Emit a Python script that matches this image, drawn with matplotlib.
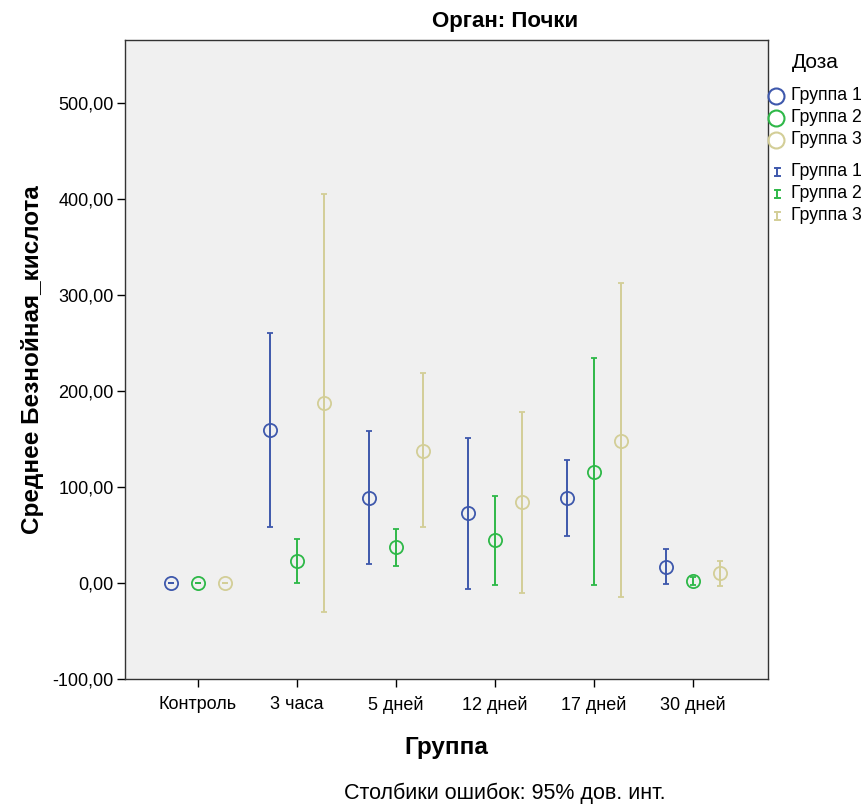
import matplotlib
matplotlib.use("Agg")
import matplotlib.pyplot as plt
from matplotlib.lines import Line2D
from matplotlib.ticker import FuncFormatter
import numpy as np

plt.rcParams['font.family'] = ['Liberation Sans', 'DejaVu Sans']

categories = ["Контроль", "3 часа", "5 дней", "12 дней", "17 дней", "30 дней"]
series = ["Группа 1", "Группа 2", "Группа 3"]
colors = ["#3E58AC", "#2EB848", "#D3CE97"]

mean_g1 = [0.0, 159.0, 88.5, 73.0, 88.5, 17.0]
low_g1 = [0.0, 58.0, 20.0, -6.5, 49.0, -1.5]
high_g1 = [0.0, 260.0, 158.0, 151.0, 128.0, 35.0]

mean_g2 = [0.0, 23.0, 37.0, 44.5, 116.0, 2.0]
low_g2 = [0.0, 0.5, 17.5, -2.5, -2.5, -2.0]
high_g2 = [0.0, 46.0, 56.5, 91.0, 234.0, 6.0]

mean_g3 = [0.0, 188.0, 138.0, 84.0, 148.0, 10.0]
low_g3 = [0.0, -30.0, 58.5, -10.0, -15.0, -3.0]
high_g3 = [0.0, 405.0, 219.0, 178.0, 312.0, 23.0]

means = [mean_g1, mean_g2, mean_g3]
lows = [low_g1, low_g2, low_g3]
highs = [high_g1, high_g2, high_g3]

W, H = 867, 805
fig = plt.figure(figsize=(W / 100, H / 100), dpi=100)
fig.patch.set_facecolor("white")
ax = fig.add_axes([125 / W, 1 - 679 / H, (768 - 125) / W, (679 - 40) / H])
ax.set_facecolor("#F0F0F0")

x = np.arange(len(categories))
offsets = [-0.273, 0.0, 0.273]
for i in range(3):
    m = np.array(means[i])
    lo = np.array(lows[i])
    hi = np.array(highs[i])
    ax.errorbar(x + offsets[i], m, yerr=[m - lo, hi - m], fmt='o', ms=9.5,
                mfc='none', mec=colors[i], mew=1.3, ecolor=colors[i],
                elinewidth=1.4, capsize=2.5, capthick=1.4, zorder=3)

ax.set_xlim(-0.737, 5.76)
ax.set_ylim(-100, 565.6)
ax.set_yticks([-100, 0, 100, 200, 300, 400, 500])
ax.yaxis.set_major_formatter(FuncFormatter(lambda v, p: f"{v:.2f}".replace(".", ",")))
ax.set_xticks(x)
ax.set_xticklabels(categories)
ax.tick_params(axis='both', direction='out', length=6, width=1, labelsize=13, colors='black')
ax.tick_params(axis='x', pad=6)
ax.tick_params(axis='y', pad=2)
for s in ax.spines.values():
    s.set_color('#333333')
    s.set_linewidth(1)

ax.set_ylabel("Среднее Безнойная_кислота", fontsize=17.5, fontweight='bold', labelpad=6)
ax.set_xlabel("Группа", fontsize=17.5, fontweight='bold', labelpad=16)

fig.text(505 / W, 1 - 21 / H, "Орган: Почки", ha='center', va='center', fontsize=16, fontweight='bold')
fig.text(505 / W, 1 - 793 / H, "Столбики ошибок: 95% дов. инт.", ha='center', va='center', fontsize=15.5)

# legend
fig.text(792 / W, 1 - 62 / H, "Доза", ha='left', va='center', fontsize=15)
ys_c = [96, 118, 140]
ys_e = [172, 194, 216]
for i in range(3):
    fig.add_artist(Line2D([776 / W], [1 - ys_c[i] / H], marker='o', ms=11.5, mfc='none',
                          mec=colors[i], mew=1.5, transform=fig.transFigure))
    fig.text(791 / W, 1 - ys_c[i] / H, series[i], ha='left', va='center', fontsize=12.7)
    xe = 777 / W
    fig.add_artist(Line2D([xe, xe], [1 - (ys_e[i] - 4) / H, 1 - (ys_e[i] + 4) / H],
                          color=colors[i], lw=1.4, transform=fig.transFigure))
    for yy in (ys_e[i] - 4, ys_e[i] + 4):
        fig.add_artist(Line2D([(774.5) / W, (779.5) / W], [1 - yy / H, 1 - yy / H],
                              color=colors[i], lw=1.4, transform=fig.transFigure))
    fig.text(791 / W, 1 - ys_e[i] / H, series[i], ha='left', va='center', fontsize=12.7)

fig.savefig("out.png", dpi=100)
